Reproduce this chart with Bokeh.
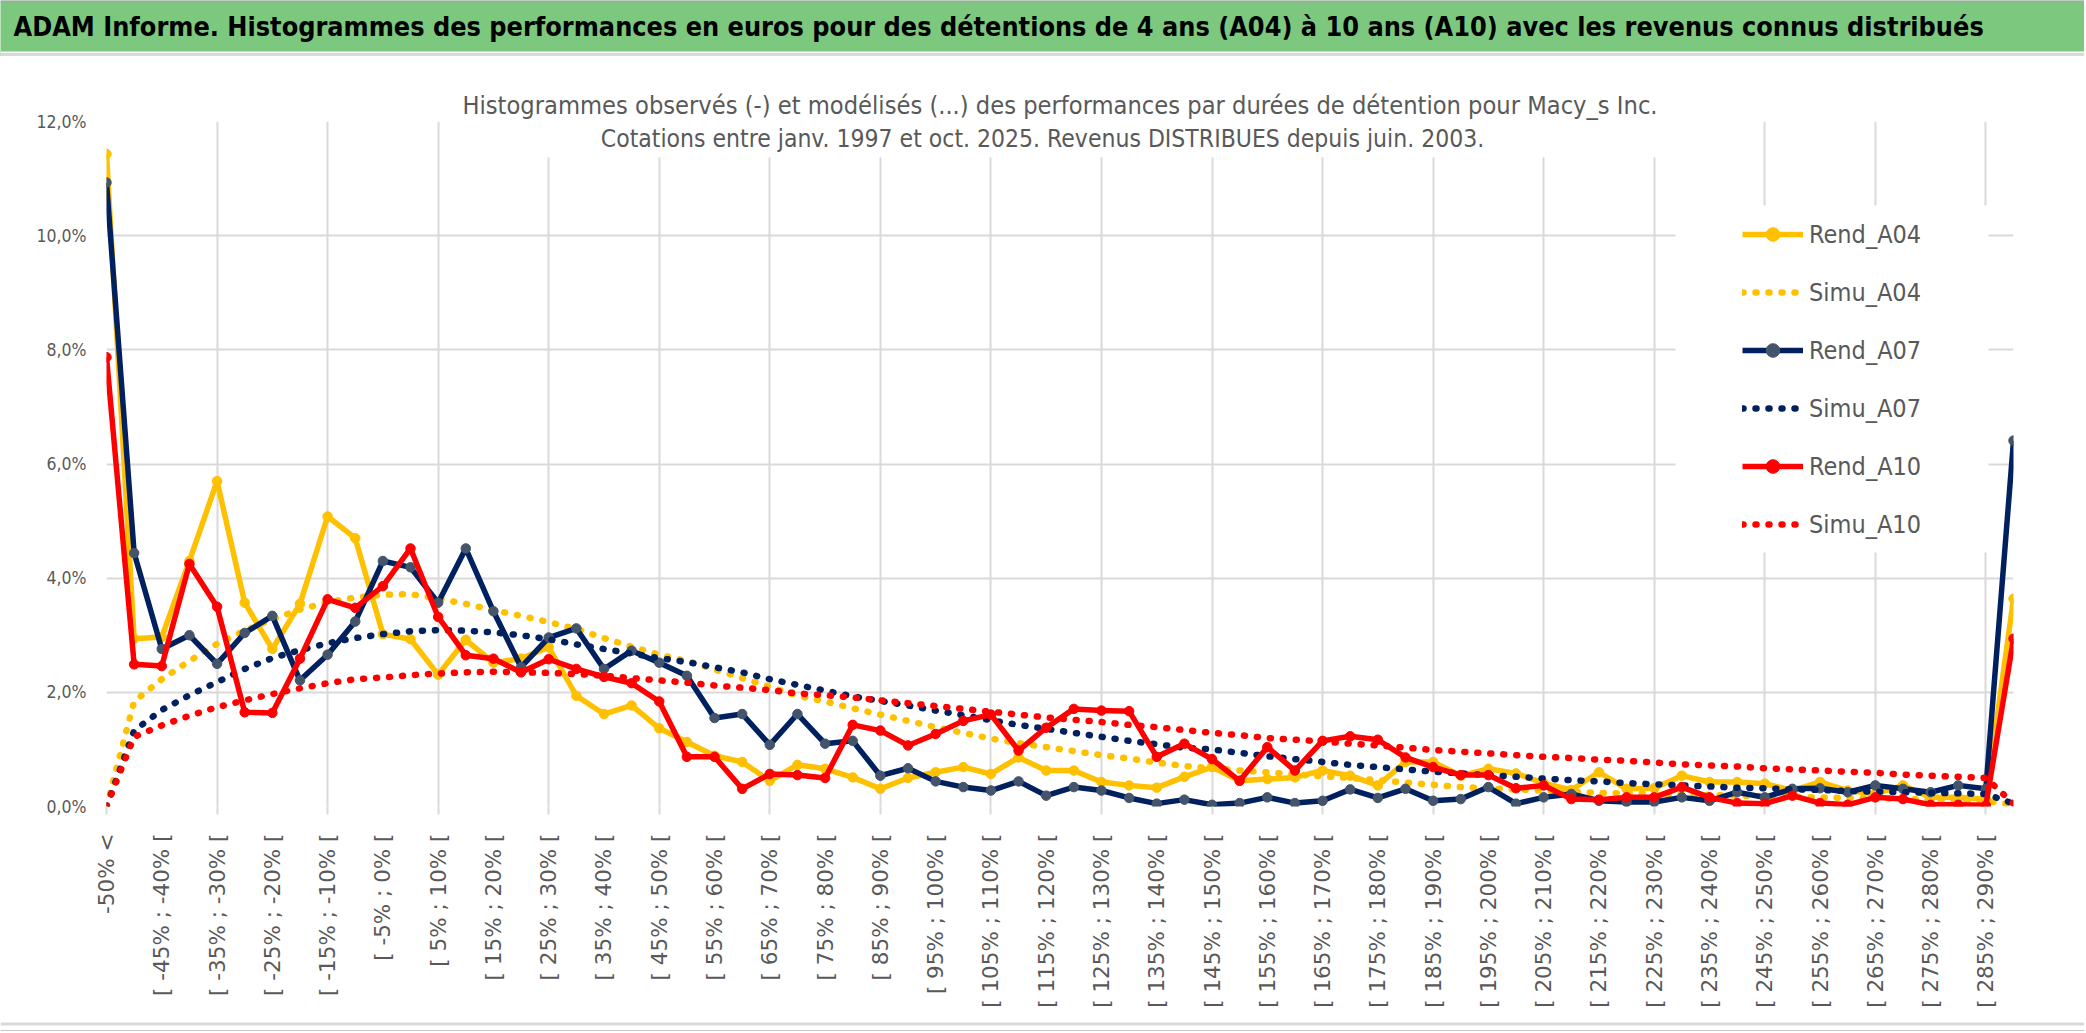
import math
from bokeh.plotting import figure
from bokeh.layouts import column
from bokeh.models import (Range1d, FixedTicker, CustomJSTickFormatter, Legend, LegendItem,
                          Label, BoxAnnotation, LinearAxis)
from bokeh.embed import file_html
from bokeh.resources import INLINE

# ---------------- data ----------------
categories = [
    "-50% <", "[ -50% ; -45% [", "[ -45% ; -40% [", "[ -40% ; -35% [", "[ -35% ; -30% [",
    "[ -30% ; -25% [", "[ -25% ; -20% [", "[ -20% ; -15% [", "[ -15% ; -10% [", "[ -10% ; -5% [",
    "[ -5% ; 0% [", "[ 0% ; 5% [", "[ 5% ; 10% [", "[ 10% ; 15% [", "[ 15% ; 20% [",
    "[ 20% ; 25% [", "[ 25% ; 30% [", "[ 30% ; 35% [", "[ 35% ; 40% [", "[ 40% ; 45% [",
    "[ 45% ; 50% [", "[ 50% ; 55% [", "[ 55% ; 60% [", "[ 60% ; 65% [", "[ 65% ; 70% [",
    "[ 70% ; 75% [", "[ 75% ; 80% [", "[ 80% ; 85% [", "[ 85% ; 90% [", "[ 90% ; 95% [",
    "[ 95% ; 100% [", "[ 100% ; 105% [", "[ 105% ; 110% [", "[ 110% ; 115% [", "[ 115% ; 120% [",
    "[ 120% ; 125% [", "[ 125% ; 130% [", "[ 130% ; 135% [", "[ 135% ; 140% [", "[ 140% ; 145% [",
    "[ 145% ; 150% [", "[ 150% ; 155% [", "[ 155% ; 160% [", "[ 160% ; 165% [", "[ 165% ; 170% [",
    "[ 170% ; 175% [", "[ 175% ; 180% [", "[ 180% ; 185% [", "[ 185% ; 190% [", "[ 190% ; 195% [",
    "[ 195% ; 200% [", "[ 200% ; 205% [", "[ 205% ; 210% [", "[ 210% ; 215% [", "[ 215% ; 220% [",
    "[ 220% ; 225% [", "[ 225% ; 230% [", "[ 230% ; 235% [", "[ 235% ; 240% [", "[ 240% ; 245% [",
    "[ 245% ; 250% [", "[ 250% ; 255% [", "[ 255% ; 260% [", "[ 260% ; 265% [", "[ 265% ; 270% [",
    "[ 270% ; 275% [", "[ 275% ; 280% [", "[ 280% ; 285% [", "[ 285% ; 290% [", "> 290%",
]

# values in percent
rend_a04 = [11.43, 2.94, 2.97, 4.30, 5.70, 3.57, 2.76, 3.55, 5.08, 4.70,
            3.02, 2.93, 2.31, 2.92, 2.52, 2.59, 2.79, 1.94, 1.62, 1.77,
            1.37, 1.13, 0.89, 0.78, 0.45, 0.73, 0.66, 0.51, 0.31, 0.50,
            0.60, 0.69, 0.57, 0.86, 0.63, 0.63, 0.43, 0.37, 0.33, 0.52,
            0.69, 0.45, 0.48, 0.51, 0.63, 0.54, 0.37, 0.78, 0.78, 0.54,
            0.66, 0.58, 0.41, 0.29, 0.60, 0.31, 0.32, 0.54, 0.43, 0.43,
            0.40, 0.28, 0.43, 0.28, 0.22, 0.37, 0.16, 0.16, 0.13, 3.64]
simu_a04 = [0.00, 1.84, 2.23, 2.55, 2.85, 3.08, 3.28, 3.45, 3.58, 3.66,
            3.71, 3.72, 3.64, 3.55, 3.44, 3.34, 3.23, 3.11, 2.95, 2.80,
            2.66, 2.55, 2.40, 2.25, 2.10, 1.94, 1.84, 1.72, 1.61, 1.50,
            1.39, 1.29, 1.19, 1.11, 1.04, 0.97, 0.90, 0.84, 0.77, 0.71,
            0.67, 0.63, 0.60, 0.56, 0.53, 0.50, 0.46, 0.42, 0.38, 0.34,
            0.32, 0.30, 0.28, 0.26, 0.24, 0.23, 0.22, 0.21, 0.20, 0.19,
            0.18, 0.17, 0.16, 0.15, 0.14, 0.13, 0.12, 0.11, 0.10, 0.03]
rend_a07 = [10.93, 4.44, 2.76, 3.00, 2.50, 3.04, 3.34, 2.21, 2.66, 3.24,
            4.30, 4.19, 3.57, 4.52, 3.42, 2.44, 2.96, 3.12, 2.41, 2.73,
            2.52, 2.29, 1.55, 1.62, 1.08, 1.62, 1.10, 1.15, 0.54, 0.67,
            0.44, 0.34, 0.28, 0.44, 0.19, 0.34, 0.28, 0.15, 0.05, 0.12,
            0.03, 0.06, 0.16, 0.06, 0.10, 0.30, 0.15, 0.31, 0.10, 0.13,
            0.34, 0.05, 0.16, 0.22, 0.10, 0.08, 0.08, 0.16, 0.10, 0.25,
            0.16, 0.31, 0.32, 0.25, 0.37, 0.31, 0.25, 0.37, 0.31, 6.41]
simu_a07 = [0.00, 1.33, 1.69, 1.95, 2.18, 2.41, 2.60, 2.74, 2.86, 2.95,
            3.02, 3.07, 3.09, 3.08, 3.05, 3.00, 2.93, 2.84, 2.76, 2.68,
            2.60, 2.53, 2.44, 2.35, 2.23, 2.13, 2.03, 1.93, 1.85, 1.77,
            1.68, 1.60, 1.51, 1.43, 1.36, 1.29, 1.22, 1.15, 1.09, 1.03,
            1.00, 0.94, 0.88, 0.83, 0.78, 0.73, 0.69, 0.65, 0.61, 0.58,
            0.55, 0.52, 0.49, 0.46, 0.44, 0.41, 0.39, 0.37, 0.35, 0.33,
            0.32, 0.30, 0.29, 0.27, 0.26, 0.25, 0.24, 0.23, 0.22, 0.05]
rend_a10 = [7.87, 2.49, 2.46, 4.25, 3.50, 1.65, 1.64, 2.59, 3.63, 3.48,
            3.86, 4.52, 3.32, 2.65, 2.59, 2.35, 2.58, 2.41, 2.27, 2.16,
            1.84, 0.87, 0.87, 0.31, 0.57, 0.55, 0.50, 1.43, 1.33, 1.07,
            1.27, 1.50, 1.61, 0.98, 1.38, 1.71, 1.68, 1.67, 0.87, 1.10,
            0.83, 0.45, 1.04, 0.63, 1.15, 1.23, 1.17, 0.86, 0.69, 0.55,
            0.55, 0.32, 0.37, 0.13, 0.12, 0.16, 0.16, 0.34, 0.16, 0.06,
            0.05, 0.19, 0.06, 0.03, 0.16, 0.13, 0.03, 0.03, 0.02, 2.94]
simu_a10 = [0.00, 1.22, 1.42, 1.59, 1.74, 1.86, 1.97, 2.07, 2.16, 2.23,
            2.26, 2.30, 2.33, 2.35, 2.36, 2.35, 2.34, 2.32, 2.29, 2.25,
            2.21, 2.17, 2.12, 2.08, 2.04, 1.98, 1.95, 1.91, 1.86, 1.81,
            1.76, 1.71, 1.66, 1.61, 1.56, 1.52, 1.48, 1.43, 1.39, 1.34,
            1.29, 1.25, 1.20, 1.17, 1.14, 1.10, 1.07, 1.03, 0.99, 0.96,
            0.93, 0.90, 0.87, 0.85, 0.82, 0.80, 0.77, 0.74, 0.72, 0.70,
            0.67, 0.65, 0.63, 0.61, 0.59, 0.56, 0.54, 0.52, 0.50, 0.05]

y_ticks = [0, 2, 4, 6, 8, 10, 12]

title_text = ("ADAM Informe. Histogrammes des performances en euros pour des détentions "
              "de 4 ans (A04) à 10 ans (A10) avec les revenus connus distribués")
subtitle_1 = ("Histogrammes observés (-) et modélisés (...) des performances par durées "
              "de détention pour Macy_s Inc.")
subtitle_2 = "Cotations entre janv. 1997 et oct. 2025. Revenus DISTRIBUES depuis juin. 2003."

# ---------------- style ----------------
YEL, NAVY, NAVY_MK, RED = "#FFC000", "#002060", "#44546A", "#FF0000"
GRID = "#D9D9D9"
TXT = "#595959"
BANNER = "#7DC87F"
COND = "'DejaVu Sans Condensed', 'Liberation Sans Narrow', sans-serif"

W = 2084
HEAD_H = 56
MAIN_H = 964           # page y 56 .. 1020
FOOT_H = 11
FL, FRAME_R, FRAME_T, FRAME_B = 106, 2013, 121, 806   # page coordinates of the plot frame
N = len(categories)


def box(fig_bottom, l, r, t, b, color):
    """BoxAnnotation in screen units from page coordinates (frame bottom-left origin)."""
    return BoxAnnotation(left=l, right=r, top=fig_bottom - t, bottom=fig_bottom - b,
                         left_units="screen", right_units="screen",
                         top_units="screen", bottom_units="screen",
                         fill_color=color, fill_alpha=1.0, line_color=None)


# ---------------- header (banner) ----------------
head = figure(width=W, height=HEAD_H, x_range=Range1d(0, 1), y_range=Range1d(0, 1),
              x_axis_type=None, y_axis_type=None, output_backend="svg",
              toolbar_location=None, tools="", min_border=0)
head.frame_align = False
head.outline_line_color = None
head.background_fill_color = BANNER
head.border_fill_color = BANNER
head.grid.visible = False
head.add_layout(box(HEAD_H, 0, W, 0, 2, "#A6A6A6"))
head.add_layout(box(HEAD_H, 0, W, 51, 53, "white"))
head.add_layout(box(HEAD_H, 0, W, 53, 56, GRID))
head.add_layout(Label(x=13, y=HEAD_H - 26, x_units="screen", y_units="screen", text=title_text,
                      text_font=COND, text_font_style="bold", text_font_size="26.8px",
                      text_color="black", text_align="left", text_baseline="middle"))

# ---------------- main chart ----------------
top_border = FRAME_T - HEAD_H
bottom_border = (HEAD_H + MAIN_H) - FRAME_B
p = figure(width=W, height=MAIN_H, x_range=Range1d(0, N - 1), y_range=Range1d(0, 12),
           output_backend="svg", toolbar_location=None, tools="",
           min_border_left=FL, min_border_right=W - FRAME_R,
           min_border_top=top_border, min_border_bottom=bottom_border)
p.frame_align = False
p.outline_line_color = None
p.background_fill_color = "white"
p.border_fill_color = "white"

p.title.text = subtitle_1
p.title.align = "center"
p.title.offset = -21
p.title.standoff = 3
p.title.text_font = COND
p.title.text_font_style = "normal"
p.title.text_font_size = "25.2px"
p.title.text_color = TXT

# x axis 1 (nearest the frame): tick marks every 4 categories, no labels
tick_axis = p.below[0]
tick_axis.ticker = FixedTicker(ticks=list(range(0, N, 4)))
tick_axis.formatter = CustomJSTickFormatter(code="return '';")
tick_axis.major_label_text_font_size = "0px"
tick_axis.major_label_standoff = 0
tick_axis.axis_line_color = None
tick_axis.major_tick_line_color = GRID
tick_axis.major_tick_line_width = 2
tick_axis.major_tick_out = 8
tick_axis.major_tick_in = 0
tick_axis.minor_tick_line_color = None

# x axis 2: category labels every 2 categories
label_axis = LinearAxis(ticker=FixedTicker(ticks=list(range(0, N, 2))))
label_axis.major_label_overrides = {i: categories[i] for i in range(0, N, 2)}
label_axis.major_label_orientation = math.pi / 2
label_axis.major_label_text_font = "DejaVu Sans"
label_axis.major_label_text_font_size = "21.5px"
label_axis.major_label_text_color = TXT
label_axis.axis_line_color = None
label_axis.major_tick_line_color = None
label_axis.minor_tick_line_color = None
label_axis.major_tick_out = 0
label_axis.major_tick_in = 0
label_axis.major_label_standoff = 19
p.add_layout(label_axis, "below")

# y axis
p.yaxis.ticker = FixedTicker(ticks=y_ticks)
p.yaxis.formatter = CustomJSTickFormatter(code="return tick.toFixed(1).replace('.', ',') + '%';")
p.yaxis.major_label_text_font = COND
p.yaxis.major_label_text_font_size = "17.5px"
p.yaxis.major_label_text_color = TXT
p.yaxis.axis_line_color = None
p.yaxis.major_tick_line_color = None
p.yaxis.minor_tick_line_color = None
p.yaxis.major_tick_out = 0
p.yaxis.major_tick_in = 0
p.yaxis.major_label_standoff = 20

p.xgrid.ticker = FixedTicker(ticks=list(range(0, N, 4)))
p.xgrid.grid_line_color = GRID
p.xgrid.grid_line_width = 2
p.ygrid.grid_line_color = GRID
p.ygrid.grid_line_width = 2

x = list(range(N))


def rend(vals, color, mk):
    ln = p.line(x, vals, line_color=color, line_width=5.5, line_join="round")
    sc = p.scatter(x, vals, size=9.5, fill_color=mk, line_color=mk)
    return [ln, sc]


def simu(vals, color):
    return [p.line(x, vals, line_color=color, line_width=6.5, line_dash="1 12", line_cap="round")]


r04 = rend(rend_a04, YEL, YEL)
s04 = simu(simu_a04, YEL)
r07 = rend(rend_a07, NAVY, NAVY_MK)
s07 = simu(simu_a07, NAVY)
r10 = rend(rend_a10, RED, RED)
s10 = simu(simu_a10, RED)


def fbox(l, r, t, b, color):
    # page coords -> main-frame screen units
    return BoxAnnotation(left=l - FL, right=r - FL, top=FRAME_B - t, bottom=FRAME_B - b,
                         left_units="screen", right_units="screen",
                         top_units="screen", bottom_units="screen",
                         fill_color=color, fill_alpha=1.0, line_color=None)


# white boxes of the chart title and of the legend (they hide the grid)
p.add_layout(fbox(446, 1656, FRAME_T - 2, 157, "white"))
p.add_layout(fbox(1675, 1988, 205, 552, "white"))

p.add_layout(Label(x=1042 - FL, y=FRAME_B - 138, x_units="screen", y_units="screen", text=subtitle_2,
                   text_font=COND, text_font_size="24.5px", text_color=TXT,
                   text_align="center", text_baseline="middle"))

leg_top = 234 - 17
leg_bottom = leg_top + 6 * 34 + 5 * 24
legend = Legend(items=[LegendItem(label="Rend_A04", renderers=r04),
                       LegendItem(label="Simu_A04", renderers=s04),
                       LegendItem(label="Rend_A07", renderers=r07),
                       LegendItem(label="Simu_A07", renderers=s07),
                       LegendItem(label="Rend_A10", renderers=r10),
                       LegendItem(label="Simu_A10", renderers=s10)],
                location=(1742 - FL, FRAME_B - leg_bottom), orientation="vertical",
                glyph_width=61, glyph_height=34, label_height=34, spacing=24,
                padding=0, margin=0, label_standoff=6,
                label_text_font=COND, label_text_font_size="25px", label_text_color=TXT,
                border_line_color=None, background_fill_alpha=0)
p.add_layout(legend)

# ---------------- footer (bottom border line of the chart area) ----------------
foot = figure(width=W, height=FOOT_H, x_range=Range1d(0, 1), y_range=Range1d(0, 1),
              x_axis_type=None, y_axis_type=None, output_backend="svg",
              toolbar_location=None, tools="", min_border=0)
foot.frame_align = False
foot.outline_line_color = None
foot.background_fill_color = "white"
foot.border_fill_color = "white"
foot.grid.visible = False
foot.add_layout(box(FOOT_H, 0, W, 1, 4, GRID))
foot.add_layout(box(FOOT_H, 0, W, 9, 11, "#8C8C8C"))

layout = column(head, p, foot, spacing=0)
open("out.html", "w").write(file_html(layout, INLINE))
